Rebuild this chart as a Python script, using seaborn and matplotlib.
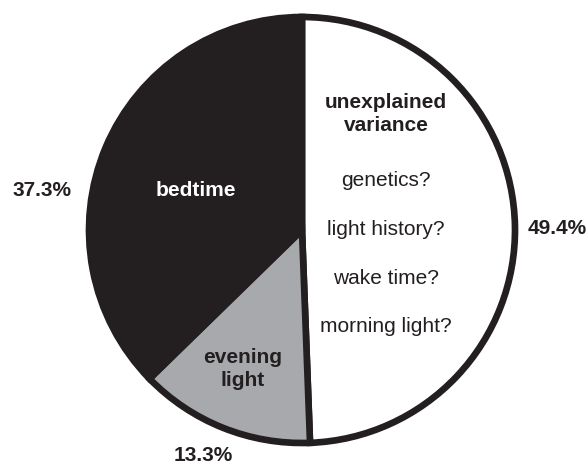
import matplotlib
matplotlib.use("Agg")
import matplotlib.pyplot as plt
import seaborn as sns

# --- data ---
categories = ["unexplained variance", "evening light", "bedtime"]
shares = [49.4, 13.3, 37.3]
inner_labels = ["unexplained\nvariance", "evening\nlight", "bedtime"]
open_questions = ["genetics?", "light history?", "wake time?", "morning light?"]

# --- style ---
INK = "#231f20"
GREY = "#a7a9ac"
colores = ["white", GREY, INK]

sns.set_theme(style="white")
plt.rcParams["font.family"] = ["Liberation Sans", "DejaVu Sans"]

# pixel positions (center 302,230 ; radius 213 px)
CX, CY, R = 302, 230, 213
def px(x, y):
    return (x - CX) / R, (CY - y) / R

pos_pct = [(557, 228), (203, 455), (42, 190)]
pos_inner = [(386, 114), (243, 369), (196, 190)]
pos_questions = [(386, 180), (386, 229), (386, 278), (386, 326)]

fig = plt.figure(figsize=(5.88, 4.65), dpi=100)
ax = fig.add_axes([0, 0, 1, 1])

wedges, _ = ax.pie(shares, colors=colores, startangle=90, counterclock=False,
                   radius=1.0,
                   wedgeprops=dict(edgecolor=INK, linewidth=4.8, joinstyle="miter"))
ax.set_aspect("auto")
ax.set_xlim(-CX / R, (588 - CX) / R)
ax.set_ylim((CY - 465) / R, CY / R)
ax.axis("off")

for v, p in zip(shares, pos_pct):
    ax.text(*px(*p), f"{v:.1f}%", ha="center", va="center",
            fontsize=15, fontweight="bold", color=INK)

for lab, p, col in zip(inner_labels, pos_inner, [INK, INK, "white"]):
    ax.text(*px(*p), lab, ha="center", va="center", fontsize=15,
            fontweight="bold", color=col, linespacing=1.25)

for q, p in zip(open_questions, pos_questions):
    ax.text(*px(*p), q, ha="center", va="center", fontsize=15, color=INK)

plt.savefig("out.png", dpi=100)
